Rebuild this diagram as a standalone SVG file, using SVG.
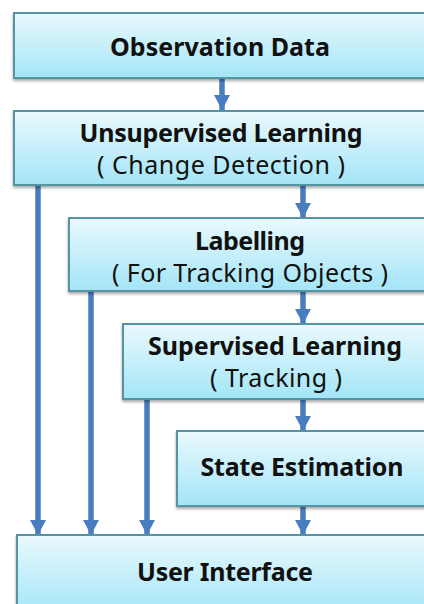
<svg xmlns="http://www.w3.org/2000/svg" width="424" height="604" viewBox="0 0 424 604">
  <defs>
    <linearGradient id="g" x1="0" y1="0" x2="0" y2="1">
      <stop offset="0" stop-color="#eaf9fd"/>
      <stop offset="1" stop-color="#a3e5f7"/>
    </linearGradient>
    <filter id="sh" x="-5%" y="-10%" width="110%" height="130%">
      <feGaussianBlur in="SourceAlpha" stdDeviation="1.5"/>
      <feOffset dx="0" dy="2" result="b"/>
      <feComponentTransfer><feFuncA type="linear" slope="0.35"/></feComponentTransfer>
      <feMerge><feMergeNode/><feMergeNode in="SourceGraphic"/></feMerge>
    </filter>
    <marker id="ah" markerUnits="userSpaceOnUse" markerWidth="16" markerHeight="17" viewBox="0 0 16 17" refX="15" refY="8.5" orient="auto">
      <path d="M0,0.5 L15,8.5 L0,16.5 Z" fill="#4a7cc0"/>
    </marker>
  </defs>
  <style>
    .box { fill: url(#g); stroke: #5693a3; stroke-width: 2; filter: url(#sh); }
    .t { font-family: "Noto Sans", "Open Sans", sans-serif; font-size: 25px; fill: #111; text-anchor: middle; }
    .b { font-weight: bold; }
    .c { fill: none; stroke: #4a7cc0; stroke-width: 5.5; marker-end: url(#ah); }
  </style>
  <rect width="424" height="604" fill="#ffffff"/>
  <g id="connectors">
    <path class="c" d="M222,78 V110"/>
    <path class="c" d="M303,185 V218"/>
    <path class="c" d="M303,291 V324"/>
    <path class="c" d="M303,399 V431"/>
    <path class="c" d="M303,506 V535"/>
    <path class="c" d="M38,185 V535"/>
    <path class="c" d="M91,291 V535"/>
    <path class="c" d="M147,399 V535"/>
  </g>
  <g id="observation">
    <rect class="box" x="14" y="13" width="420" height="65"/>
    <text class="t b" x="220" y="56" textLength="220" lengthAdjust="spacing">Observation Data</text>
  </g>
  <g id="unsupervised">
    <rect class="box" x="14" y="111" width="420" height="74"/>
    <text class="t b" x="221" y="142" textLength="283" lengthAdjust="spacing">Unsupervised Learning</text>
    <text class="t" x="221" y="174" textLength="248" lengthAdjust="spacing">( Change Detection )</text>
  </g>
  <g id="labelling">
    <rect class="box" x="69" y="218" width="365" height="73"/>
    <text class="t b" x="250" y="250" textLength="110" lengthAdjust="spacing">Labelling</text>
    <text class="t" x="250" y="282" textLength="276" lengthAdjust="spacing">( For Tracking Objects )</text>
  </g>
  <g id="supervised">
    <rect class="box" x="123" y="324" width="311" height="75"/>
    <text class="t b" x="275" y="355" textLength="254" lengthAdjust="spacing">Supervised Learning</text>
    <text class="t" x="276" y="387" textLength="132" lengthAdjust="spacing">( Tracking )</text>
  </g>
  <g id="state">
    <rect class="box" x="177" y="431" width="257" height="75"/>
    <text class="t b" x="302" y="476" textLength="203" lengthAdjust="spacing">State Estimation</text>
  </g>
  <g id="ui">
    <rect class="box" x="17" y="535" width="417" height="80"/>
    <text class="t b" x="225" y="581" textLength="176" lengthAdjust="spacing">User Interface</text>
  </g>
</svg>
